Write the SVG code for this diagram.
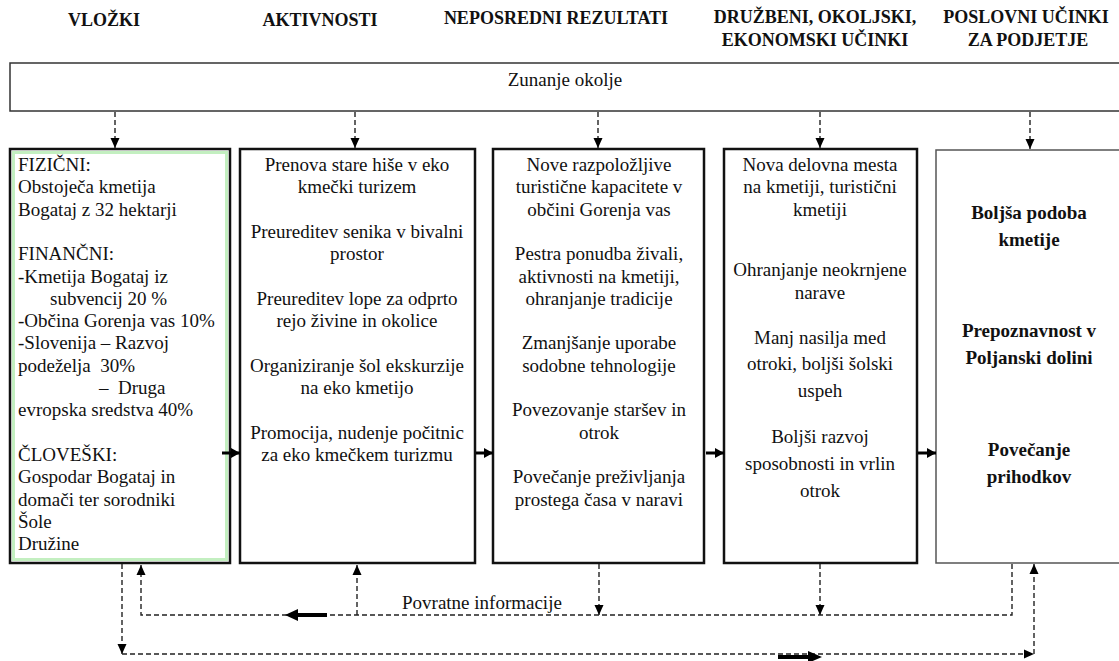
<svg xmlns="http://www.w3.org/2000/svg" width="1119" height="661" viewBox="0 0 1119 661">
<style>
.hd{font-family:"Liberation Serif","Times New Roman",serif;font-weight:bold;font-size:18px;fill:#111;text-anchor:middle}
.tx{font-family:"Liberation Serif","Times New Roman",serif;font-size:19px;fill:#111}
.c{text-anchor:middle}
.b{font-weight:bold}
.box{fill:#fff;stroke:#111;stroke-width:2.5}
.dash{fill:none;stroke:#222;stroke-width:1.4;stroke-dasharray:5 3}
.solid{fill:none;stroke:#000;stroke-width:3}
</style>
<defs>
<marker id="ah" markerUnits="userSpaceOnUse" markerWidth="10" markerHeight="10" refX="10" refY="5" orient="auto">
<path d="M0,0.5 L10,5 L0,9.5 z" fill="#000"/>
</marker>
<marker id="ahs" markerUnits="userSpaceOnUse" markerWidth="10" markerHeight="10" refX="9" refY="5" orient="auto">
<path d="M0,0 L9,5 L0,10 z" fill="#000"/>
</marker>
</defs>
<rect width="1119" height="661" fill="#fff"/>

<g id="headers">
<text class="hd" x="104" y="26" textLength="72" lengthAdjust="spacing">VLOŽKI</text>
<text class="hd" x="320" y="26">AKTIVNOSTI</text>
<text class="hd" x="556" y="24">NEPOSREDNI REZULTATI</text>
<text class="hd" x="815" y="23">DRUŽBENI, OKOLJSKI,</text>
<text class="hd" x="815" y="46">EKONOMSKI UČINKI</text>
<text class="hd" x="1026" y="23">POSLOVNI UČINKI</text>
<text class="hd" x="1028" y="46">ZA PODJETJE</text>
</g>

<g id="okolje">
<rect x="10" y="63" width="1120" height="48" fill="#fff" stroke="#333" stroke-width="1.5"/>
<text class="tx c" x="565" y="86">Zunanje okolje</text>
</g>

<g id="vlozki">
<rect class="box" x="10" y="149" width="220" height="414"/>
<rect x="13.5" y="152.5" width="213" height="407" fill="none" stroke="#c3efc0" stroke-width="3"/>
<text class="tx" x="18" y="171">FIZIČNI:</text>
<text class="tx" x="18" y="193.3">Obstoječa kmetija</text>
<text class="tx" x="18" y="215.6">Bogataj z 32 hektarji</text>
<text class="tx" x="18" y="260.2">FINANČNI:</text>
<text class="tx" x="18" y="282.5">-Kmetija Bogataj iz</text>
<text class="tx" x="50" y="304.8">subvencij 20 %</text>
<text class="tx" x="18" y="327.1">-Občina Gorenja vas 10%</text>
<text class="tx" x="18" y="349.4">-Slovenija – Razvoj</text>
<text class="tx" x="18" y="371.7" xml:space="preserve">podeželja  30%</text>
<text class="tx" x="99" y="394" xml:space="preserve">–  Druga</text>
<text class="tx" x="18" y="416.3">evropska sredstva 40%</text>
<text class="tx" x="18" y="460.9">ČLOVEŠKI:</text>
<text class="tx" x="18" y="483.2">Gospodar Bogataj in</text>
<text class="tx" x="18" y="505.5">domači ter sorodniki</text>
<text class="tx" x="18" y="527.8">Šole</text>
<text class="tx" x="18" y="550.1">Družine</text>
</g>

<g id="aktivnosti">
<rect class="box" x="240" y="149" width="235" height="414"/>
<text class="tx c" x="357" y="171">Prenova stare hiše v eko</text>
<text class="tx c" x="357" y="193.3">kmečki turizem</text>
<text class="tx c" x="357" y="237.9">Preureditev senika v bivalni</text>
<text class="tx c" x="357" y="260.2">prostor</text>
<text class="tx c" x="357" y="304.8">Preureditev lope za odprto</text>
<text class="tx c" x="357" y="327.1">rejo živine in okolice</text>
<text class="tx c" x="357" y="371.7">Organiziranje šol ekskurzije</text>
<text class="tx c" x="357" y="394">na eko kmetijo</text>
<text class="tx c" x="357" y="438.6">Promocija, nudenje počitnic</text>
<text class="tx c" x="357" y="460.9">za eko kmečkem turizmu</text>
</g>

<g id="rezultati">
<rect class="box" x="493" y="149" width="211" height="414"/>
<text class="tx c" x="599" y="171">Nove razpoložljive</text>
<text class="tx c" x="599" y="193.3">turistične kapacitete v</text>
<text class="tx c" x="599" y="215.6">občini Gorenja vas</text>
<text class="tx c" x="599" y="260.2">Pestra ponudba živali,</text>
<text class="tx c" x="599" y="282.5">aktivnosti na kmetiji,</text>
<text class="tx c" x="599" y="304.8">ohranjanje tradicije</text>
<text class="tx c" x="599" y="349.4">Zmanjšanje uporabe</text>
<text class="tx c" x="599" y="371.7">sodobne tehnologije</text>
<text class="tx c" x="599" y="416.3">Povezovanje staršev in</text>
<text class="tx c" x="599" y="438.6">otrok</text>
<text class="tx c" x="599" y="483.2">Povečanje preživljanja</text>
<text class="tx c" x="599" y="505.5">prostega časa v naravi</text>
</g>

<g id="ucinki">
<rect class="box" x="724" y="149" width="193" height="414"/>
<text class="tx c" x="820" y="171">Nova delovna mesta</text>
<text class="tx c" x="820" y="193.3">na kmetiji, turistični</text>
<text class="tx c" x="820" y="215.6">kmetiji</text>
<text class="tx c" x="820" y="276">Ohranjanje neokrnjene</text>
<text class="tx c" x="820" y="298.5">narave</text>
<text class="tx c" x="820" y="344">Manj nasilja med</text>
<text class="tx c" x="820" y="370">otroki, boljši šolski</text>
<text class="tx c" x="820" y="397">uspeh</text>
<text class="tx c" x="820" y="443">Boljši razvoj</text>
<text class="tx c" x="820" y="470">sposobnosti in vrlin</text>
<text class="tx c" x="820" y="497">otrok</text>
</g>

<g id="poslovni">
<rect x="936" y="150" width="200" height="413" fill="#fff" stroke="#555" stroke-width="1.5"/>
<text class="tx c b" x="1029" y="219">Boljša podoba</text>
<text class="tx c b" x="1029" y="246">kmetije</text>
<text class="tx c b" x="1029" y="337">Prepoznavnost v</text>
<text class="tx c b" x="1029" y="364">Poljanski dolini</text>
<text class="tx c b" x="1029" y="456">Povečanje</text>
<text class="tx c b" x="1029" y="483">prihodkov</text>
</g>

<g id="connectors">
<line class="dash" x1="115" y1="112" x2="115" y2="148" marker-end="url(#ah)"/>
<line class="dash" x1="355" y1="112" x2="355" y2="148" marker-end="url(#ah)"/>
<line class="dash" x1="598" y1="112" x2="598" y2="148" marker-end="url(#ah)"/>
<line class="dash" x1="820" y1="112" x2="820" y2="148" marker-end="url(#ah)"/>
<line class="dash" x1="1030" y1="112" x2="1030" y2="149" marker-end="url(#ah)"/>

<line class="solid" x1="222" y1="453" x2="240" y2="453" marker-end="url(#ahs)"/>
<line class="solid" x1="476" y1="453" x2="493" y2="453" marker-end="url(#ahs)"/>
<line class="solid" x1="706" y1="453" x2="724" y2="453" marker-end="url(#ahs)"/>
<line class="solid" x1="918" y1="453" x2="936" y2="453" marker-end="url(#ahs)"/>

<polyline class="dash" points="1012,564 1012,615 141,615 141,565" marker-end="url(#ah)"/>
<line class="dash" x1="357" y1="615" x2="357" y2="565" marker-end="url(#ah)"/>
<line class="dash" x1="599" y1="564" x2="599" y2="615" marker-end="url(#ah)"/>
<line class="dash" x1="820" y1="564" x2="820" y2="615" marker-end="url(#ah)"/>
<text class="tx" x="402" y="609">Povratne informacije</text>
<line x1="327" y1="615" x2="296" y2="615" stroke="#000" stroke-width="4"/>
<polygon points="285,615 298,609 298,621" fill="#000"/>

<line class="dash" x1="122" y1="564" x2="122" y2="654" marker-end="url(#ah)"/>
<line class="dash" x1="122" y1="654" x2="1034" y2="654" marker-end="url(#ah)"/>
<line class="dash" x1="1034" y1="654" x2="1034" y2="564" marker-end="url(#ah)"/>
<line x1="778" y1="657" x2="809" y2="657" stroke="#000" stroke-width="4"/>
<polygon points="822,657 808,651 808,663" fill="#000"/>
</g>
</svg>
